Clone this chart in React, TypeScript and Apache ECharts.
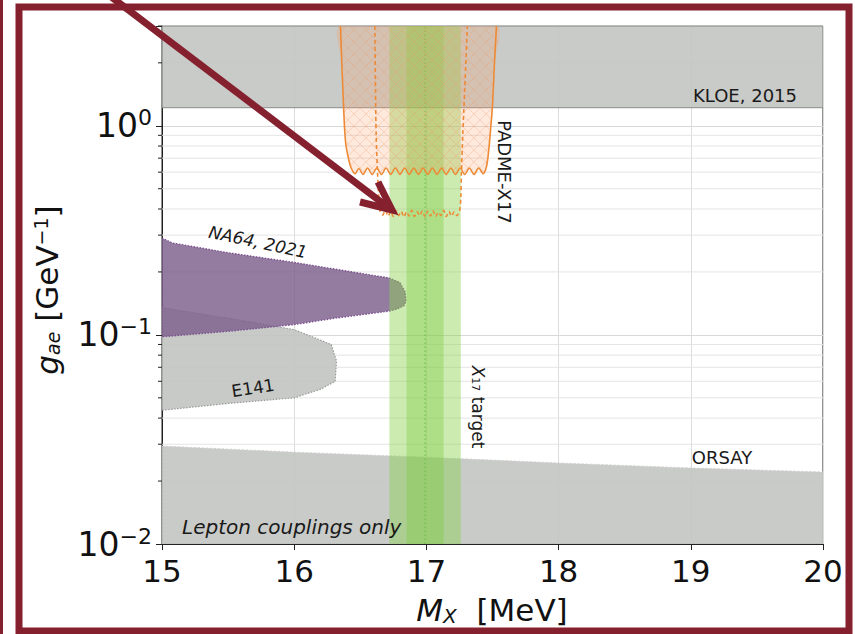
import React, { useEffect, useRef } from "react";
import * as echarts from "echarts";

const FONT = "DejaVu Sans";

// axis data
const xRange = [15, 20];
const yRange = [0.01, 3];
const yMinor = [0.02, 0.03, 0.04, 0.05, 0.06, 0.07, 0.08, 0.09, 0.2, 0.3, 0.4, 0.5, 0.6, 0.7, 0.8, 0.9, 2, 3];

// exclusion regions [MX (MeV), g_ae (GeV^-1)]
const kloe = [[15, 1.22], [20, 1.22], [20, 3], [15, 3]];
const orsayX = [15, 16, 17, 18, 19, 20];
const orsayTop = [0.0294, 0.0275, 0.026, 0.0244, 0.0231, 0.0221];
const e141 = [
  [15, 0.135], [15.5, 0.12], [16.0, 0.106], [16.1, 0.1], [16.28, 0.09], [16.32, 0.075],
  [16.31, 0.06], [16.2, 0.055], [16.0, 0.05], [15.5, 0.047], [15, 0.0436],
];
const na64 = [
  [15, 0.29], [15.08, 0.275], [15.5, 0.247], [16.0, 0.222], [16.5, 0.197], [16.72, 0.187],
  [16.8, 0.178], [16.84, 0.16], [16.845, 0.145], [16.83, 0.138], [16.78, 0.133], [16.72, 0.13],
  [16.3, 0.12], [16.0, 0.112], [15.5, 0.104], [15, 0.098],
];
const padmeSolid = [
  [16.35, 3.0], [16.36, 2.0], [16.37, 1.4], [16.38, 1.0], [16.39, 0.82], [16.41, 0.7], [16.43, 0.63], [16.46, 0.59],
  [16.49, 0.625], [16.52, 0.585], [16.555, 0.628], [16.59, 0.585], [16.625, 0.628], [16.66, 0.585],
  [16.695, 0.628], [16.73, 0.585], [16.765, 0.628], [16.8, 0.585], [16.835, 0.628], [16.87, 0.585],
  [16.905, 0.628], [16.94, 0.585], [16.975, 0.628], [17.01, 0.585], [17.045, 0.628], [17.08, 0.585],
  [17.115, 0.628], [17.15, 0.585], [17.185, 0.628], [17.22, 0.585], [17.255, 0.628], [17.29, 0.585],
  [17.325, 0.628], [17.36, 0.585], [17.395, 0.628], [17.43, 0.59],
  [17.455, 0.64], [17.47, 0.75], [17.485, 0.95], [17.5, 1.25], [17.515, 2.0], [17.53, 3.0],
];
const padmeDashed = [
  [16.61, 3.0], [16.615, 1.5], [16.62, 0.9], [16.63, 0.6], [16.64, 0.45], [16.65, 0.39],
  [16.67, 0.375], [16.69, 0.395], [16.71, 0.37], [16.73, 0.39], [16.75, 0.368], [16.77, 0.392],
  [16.79, 0.372], [16.81, 0.39], [16.83, 0.366], [16.85, 0.388], [16.87, 0.37], [16.89, 0.394],
  [16.91, 0.368], [16.93, 0.388], [16.95, 0.372], [16.97, 0.392], [16.99, 0.366], [17.01, 0.39],
  [17.03, 0.37], [17.05, 0.392], [17.07, 0.368], [17.09, 0.386], [17.11, 0.372], [17.13, 0.394],
  [17.15, 0.368], [17.17, 0.39], [17.19, 0.37], [17.21, 0.388], [17.23, 0.372], [17.25, 0.39],
  [17.26, 0.45], [17.265, 0.6], [17.275, 0.9], [17.29, 1.5], [17.31, 3.0],
];
// X17 target band
const x17Center = 16.99;
const x17Inner = [16.85, 17.13];
const x17Outer = [16.72, 17.26];

const FRAME = "#85202f";

function makeHatch() {
  const c = document.createElement("canvas");
  c.width = 12;
  c.height = 12;
  const ctx = c.getContext("2d");
  if (ctx) {
    ctx.strokeStyle = "rgba(235,150,100,0.28)";
    ctx.lineWidth = 1;
    ctx.beginPath();
    ctx.moveTo(0, 0);
    ctx.lineTo(12, 12);
    ctx.moveTo(12, 0);
    ctx.lineTo(0, 12);
    ctx.stroke();
  }
  return c;
}

function polySeries(pts: number[][], style: any, z: number, smooth = 0) {
  return {
    type: "custom",
    data: [[pts[0][0], pts[0][1]]],
    clip: true,
    silent: true,
    z,
    renderItem: (_p: any, api: any) => ({
      type: "polygon",
      shape: { points: pts.map((p) => api.coord(p)), smooth },
      style,
    }),
  };
}

function lineSeries(pts: number[][], style: any, z: number, smooth = 0) {
  return {
    type: "custom",
    data: [[pts[0][0], pts[0][1]]],
    clip: true,
    silent: true,
    z,
    renderItem: (_p: any, api: any) => ({
      type: "polyline",
      shape: { points: pts.map((p) => api.coord(p)), smooth },
      style: { fill: "none", ...style },
    }),
  };
}

function bandSeries(xs: number[], fill: string, z: number) {
  return polySeries(
    [[xs[0], yRange[0]], [xs[1], yRange[0]], [xs[1], yRange[1]], [xs[0], yRange[1]]],
    { fill },
    z
  );
}

export default function App() {
  const ref = useRef<HTMLDivElement>(null);
  useEffect(() => {
    if (!ref.current) return;
    const chart = echarts.init(ref.current, null, { renderer: "svg" });
    const hatch = makeHatch();
    const orsay = [
      ...orsayX.map((x, i) => [x, orsayTop[i]]),
      [20, yRange[0]],
      [15, yRange[0]],
    ];
    const option: any = {
      animation: false,
      backgroundColor: "#ffffff",
      grid: { left: 162, right: 32, top: 26, bottom: 90, show: true, borderColor: "#222", borderWidth: 1, backgroundColor: "transparent" },
      xAxis: {
        type: "value",
        min: xRange[0],
        max: xRange[1],
        interval: 1,
        axisLine: { show: true, lineStyle: { color: "#222" } },
        axisTick: { show: true, length: 6, lineStyle: { color: "#222" } },
        axisLabel: { fontSize: 31, fontFamily: FONT, color: "#111", margin: 11 },
        splitLine: { show: true, lineStyle: { color: "#dcdcdc", width: 1 } },
      },
      yAxis: {
        type: "log",
        logBase: 10,
        min: yRange[0],
        max: yRange[1],
        axisLine: { show: true, lineStyle: { color: "#222" } },
        axisTick: { show: true, length: 6, lineStyle: { color: "#222" } },
        axisLabel: {
          margin: 10,
          formatter: (v: number) => {
            const l = Math.log10(v);
            const e = Math.round(l);
            if (Math.abs(l - e) > 1e-6) return "";
            return `{b|10}{s|${e < 0 ? "\u2212" : ""}${Math.abs(e)}}`;
          },
          rich: {
            b: { fontSize: 33, fontFamily: FONT, color: "#111", lineHeight: 38 },
            s: { fontSize: 22, fontFamily: FONT, color: "#111", verticalAlign: "top", lineHeight: 24 },
          },
        },
        splitLine: { show: true, lineStyle: { color: "#d8d8d8", width: 1 } },
      },
      series: [
        // minor grid + minor ticks
        {
          type: "custom",
          data: yMinor.map((v) => [xRange[0], v]),
          clip: false,
          silent: true,
          z: 1,
          renderItem: (_p: any, api: any) => {
            const v = api.value(1);
            const a = api.coord([xRange[0], v]);
            const b = api.coord([xRange[1], v]);
            return {
              type: "group",
              children: [
                { type: "line", shape: { x1: a[0], y1: a[1], x2: b[0], y2: b[1] }, style: { stroke: "#e4e4e4", lineWidth: 1 } },
                { type: "line", shape: { x1: a[0] - 4, y1: a[1], x2: a[0], y2: a[1] }, style: { stroke: "#222", lineWidth: 1 } },
              ],
            };
          },
        },
        polySeries(kloe, { fill: "rgba(193,196,192,0.88)", stroke: "#8a8c8a", lineWidth: 1 }, 2),
        polySeries(orsay, { fill: "rgba(193,196,192,0.88)", stroke: "#d0d0d0", lineWidth: 1, lineDash: [2, 2] }, 2),
        polySeries(e141, { fill: "rgba(193,196,192,0.9)", stroke: "#9a9a9a", lineWidth: 1.2, lineDash: [1.5, 1.5] }, 3),
        polySeries(na64, { fill: "rgba(125,95,140,0.82)", stroke: "#7a4f8e", lineWidth: 1.4, lineDash: [1.5, 1.5] }, 4),
        bandSeries(x17Outer, "rgba(140,210,80,0.45)", 5),
        bandSeries(x17Inner, "rgba(120,200,60,0.35)", 6),
        lineSeries([[x17Center, yRange[0]], [x17Center, yRange[1]]], { stroke: "#66bb44", lineWidth: 1, lineDash: [1.5, 2.5] }, 7),
        polySeries(padmeSolid, { fill: "rgba(250,165,110,0.24)" }, 8, 0.3),
        polySeries(padmeSolid, { fill: { image: hatch, repeat: "repeat", imageWidth: 12, imageHeight: 12 } }, 9, 0.3),
        lineSeries(padmeSolid, { stroke: "#ee8a35", lineWidth: 1.6 }, 10, 0.3),
        lineSeries(padmeDashed, { stroke: "#ee8a35", lineWidth: 1.6, lineDash: [4, 3] }, 10, 0.3),
      ],
      graphic: [
        { type: "text", z: 100, x: 745, y: 95, style: { text: "KLOE, 2015", font: `18px '${FONT}'`, fill: "#1a1a1a", align: "center", verticalAlign: "middle" } },
        { type: "text", z: 100, x: 722, y: 457, style: { text: "ORSAY", font: `18px '${FONT}'`, fill: "#1a1a1a", align: "center", verticalAlign: "middle" } },
        { type: "text", z: 100, x: 504, y: 172, rotation: -Math.PI / 2, style: { text: "PADME-X17", font: `18px '${FONT}'`, fill: "#1a1a1a", align: "center", verticalAlign: "middle" } },
        {
          type: "text", z: 100, x: 478, y: 407, rotation: -Math.PI / 2,
          style: {
            text: "{i|X}{sub|17} target", align: "center", verticalAlign: "middle",
            rich: {
              i: { fontSize: 17, fontFamily: FONT, fontStyle: "italic", fill: "#1a1a1a" },
              sub: { fontSize: 11, fontFamily: FONT, fill: "#1a1a1a", verticalAlign: "bottom" },
            },
            font: `17px '${FONT}'`, fill: "#1a1a1a",
          },
        },
        { type: "text", z: 100, x: 258, y: 242, rotation: -12 * Math.PI / 180, style: { text: "NA64, 2021", font: `italic 17px '${FONT}'`, fill: "#1a1a1a", align: "center", verticalAlign: "middle" } },
        { type: "text", z: 100, x: 253, y: 388, rotation: 9 * Math.PI / 180, style: { text: "E141", font: `17px '${FONT}'`, fill: "#1a1a1a", align: "center", verticalAlign: "middle" } },
        { type: "text", z: 100, x: 182, y: 527, style: { text: "Lepton couplings only", font: `italic 20px '${FONT}'`, fill: "#1a1a1a", align: "left", verticalAlign: "middle" } },
        {
          type: "text", z: 100, x: 492, y: 610,
          style: {
            text: "{i|M}{sub|X}  [MeV]", align: "center", verticalAlign: "middle",
            rich: {
              i: { fontSize: 31, fontFamily: FONT, fontStyle: "italic", fill: "#111" },
              sub: { fontSize: 20, fontFamily: FONT, fontStyle: "italic", fill: "#111", verticalAlign: "bottom" },
            },
            font: `31px '${FONT}'`, fill: "#111",
          },
        },
        {
          type: "text", z: 100, x: 47, y: 290, rotation: Math.PI / 2,
          style: {
            text: "{i|g}{sub|ae} [GeV{sup|\u22121}]", align: "center", verticalAlign: "middle",
            rich: {
              i: { fontSize: 31, fontFamily: FONT, fontStyle: "italic", fill: "#111" },
              sub: { fontSize: 19, fontFamily: FONT, fontStyle: "italic", fill: "#111", verticalAlign: "bottom" },
              sup: { fontSize: 19, fontFamily: FONT, fill: "#111", verticalAlign: "top" },
            },
            font: `31px '${FONT}'`, fill: "#111",
          },
        },
        // frame
        { type: "rect", z: 200, shape: { x: 0, y: 0, width: 3, height: 634 }, style: { fill: FRAME } },
        { type: "rect", z: 200, shape: { x: 19, y: 7, width: 830, height: 624 }, style: { fill: "none", stroke: FRAME, lineWidth: 7 } },
        // arrow
        { type: "line", z: 210, shape: { x1: 110, y1: -4, x2: 389, y2: 208 }, style: { stroke: FRAME, lineWidth: 7, lineCap: "butt" } },
        { type: "polyline", z: 210, shape: { points: [[360, 202], [392, 210], [378, 182]] }, style: { fill: "none", stroke: FRAME, lineWidth: 7, lineJoin: "miter" } },
      ],
    };
    chart.setOption(option);
    return () => chart.dispose();
  }, []);
  return <div ref={ref} style={{ position: "fixed", left: 0, top: 0, width: 855, height: 634 }} />;
}
